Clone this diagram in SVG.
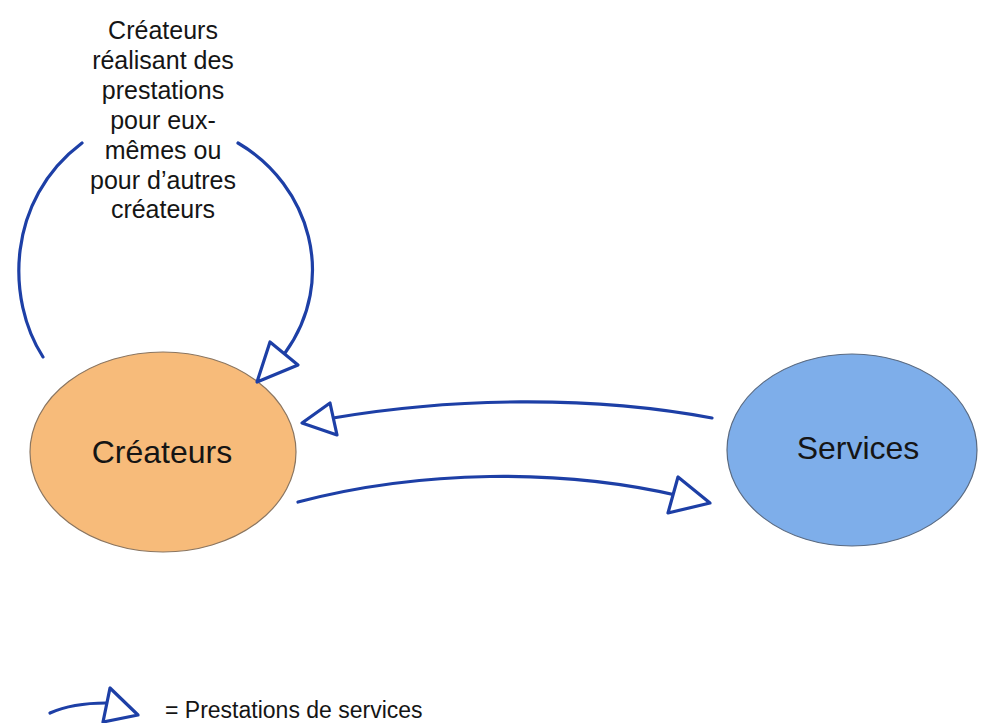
<svg xmlns="http://www.w3.org/2000/svg" width="982" height="723" viewBox="0 0 982 723">
<style>
.lbl{font-family:"Liberation Sans",Arial,sans-serif;fill:#151515;text-anchor:middle}
.big{font-size:32px}
.small{font-size:25px}
.conn{fill:none;stroke:#1d3fa6;stroke-width:3.2;stroke-linecap:round;stroke-linejoin:round}
.head{fill:#ffffff;stroke:#1d3fa6;stroke-width:3.2;stroke-linejoin:round}
</style>
<rect width="982" height="723" fill="#ffffff"/>
<g id="node-createurs">
<ellipse cx="163" cy="452" rx="133" ry="100" fill="#f7bb7a" stroke="#8a7560" stroke-width="1.2"/>
<text class="lbl big" x="162" y="463">Créateurs</text>
</g>
<g id="node-services">
<ellipse cx="852" cy="450" rx="125" ry="96" fill="#7eaeea" stroke="#5a6a80" stroke-width="1.2"/>
<text class="lbl big" x="858" y="459">Services</text>
</g>
<g id="label-loop">
<text class="lbl small" x="163" y="39">Créateurs</text>
<text class="lbl small" x="163" y="69">réalisant des</text>
<text class="lbl small" x="163" y="99">prestations</text>
<text class="lbl small" x="163" y="129">pour eux-</text>
<text class="lbl small" x="163" y="159">mêmes ou</text>
<text class="lbl small" x="163" y="189">pour d’autres</text>
<text class="lbl small" x="163" y="218">créateurs</text>
</g>
<g id="connectors">
<path class="conn" d="M43 357 C 6 300, 6 200, 82 143"/>
<path class="conn" d="M238 143 C 310 185, 338 280, 285 353"/>
<polygon class="head" points="270,342 298,365 257,382"/>
<path class="conn" d="M712 418 C 590 395, 450 398, 333 418"/>
<polygon class="head" points="330,403 337,435 302,423"/>
<path class="conn" d="M298 502 C 420 470, 560 468, 680 496"/>
<polygon class="head" points="678,477 668,513 710,503"/>
</g>
<g id="legend">
<path class="conn" d="M50 713 C 68 705, 85 703, 106 703"/>
<polygon class="head" points="110,688 103,722 138,715"/>
<text class="lbl" x="165" y="718" style="text-anchor:start;font-size:23px">= Prestations de services</text>
</g>
</svg>
